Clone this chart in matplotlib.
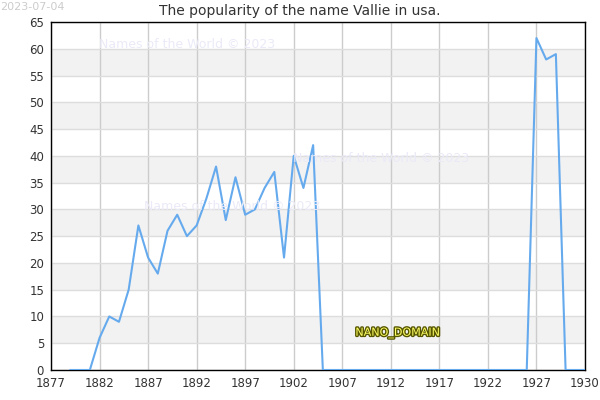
import matplotlib.pyplot as plt
import matplotlib.patheffects as pe

years = list(range(1879, 1933))
counts = [0, 0, 0, 6, 10, 9, 15, 27, 21, 18, 26, 29, 25, 27, 32, 38, 28, 36, 29, 30,
          34, 37, 21, 40, 34, 42,
          0, 0, 0, 0, 0, 0, 0, 0, 0, 0, 0, 0, 0, 0, 0, 0, 0, 0, 0, 0, 0, 0,
          62, 58, 59, 0, 0, 0]
xticks = [1877, 1882, 1887, 1892, 1897, 1902, 1907, 1912, 1917, 1922, 1927, 1932]
xtick_labels = ['1877', '1882', '1887', '1892', '1897', '1902', '1907', '1912',
                '1917', '1922', '1927', '1930']
yticks = list(range(0, 70, 5))

fig = plt.figure(figsize=(6, 4), dpi=100)
ax = fig.add_axes([0.085, 0.075, 0.89, 0.87])

# alternating bands
for lo in range(5, 65, 10):
    ax.axhspan(lo, lo + 5, color='#f2f2f2', zorder=0, lw=0)

ax.plot(years, counts, color='#66aaee', lw=1.5, zorder=3)

ax.set_xlim(1877, 1932)
ax.set_ylim(0, 65)
ax.set_xticks(xticks)
ax.set_xticklabels(xtick_labels)
ax.set_yticks(yticks)
ax.grid(axis='y', color='#dddddd', lw=1, zorder=1)
ax.grid(axis='x', color='#cccccc', lw=1, zorder=1)
ax.set_axisbelow(True)
ax.tick_params(length=0, labelsize=8.5, labelcolor='#333333', pad=5)
for s in ax.spines.values():
    s.set_color('black')
    s.set_linewidth(1)

fig.text(0.5, 0.972, 'The popularity of the name Vallie in usa.', ha='center', va='center',
         fontsize=10, color='#333333')
fig.text(0.0, 0.995, '2023-07-04', ha='left', va='top', fontsize=8, color='#cccccc')

wm = '#eaeaf8'
fig.text(0.165, 0.89, 'Names of the World © 2023', fontsize=9, color=wm, va='center')
fig.text(0.488, 0.605, 'Names of the World © 2023', fontsize=9, color=wm, va='center')
fig.text(0.24, 0.485, 'Names of the World © 2023', fontsize=9, color=wm, va='center')

t = fig.text(0.663, 0.167, 'NANO_DOMAIN', fontsize=8, color='#ffff66', ha='center', va='center')
t.set_path_effects([pe.withStroke(linewidth=2, foreground='#555500')])

fig.savefig('out.png', dpi=100)
